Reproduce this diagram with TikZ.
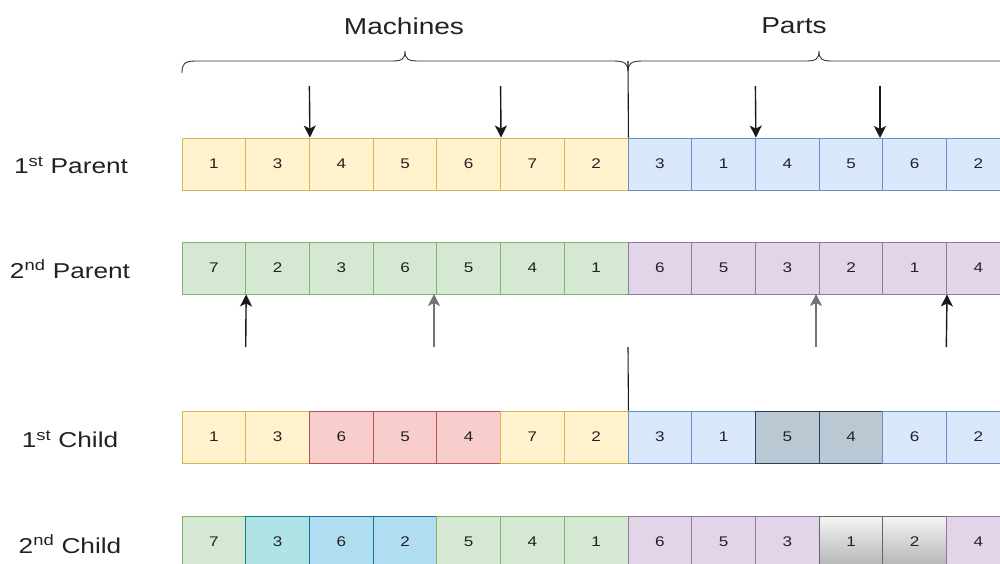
\documentclass[tikz,border=0pt]{standalone}
\usepackage{fontspec}
\setmainfont{Liberation Sans}
\newfontfamily\lblfont[FakeStretch=1.22]{Liberation Sans}
\usetikzlibrary{arrows.meta}
\definecolor{yelF}{HTML}{FFF2CC}\definecolor{yelD}{HTML}{D6B656}
\definecolor{bluF}{HTML}{DAE8FC}\definecolor{bluD}{HTML}{6C8EBF}
\definecolor{grnF}{HTML}{D5E8D4}\definecolor{grnD}{HTML}{82B366}
\definecolor{purF}{HTML}{E1D5E7}\definecolor{purD}{HTML}{9673A6}
\definecolor{redF}{HTML}{F8CECC}\definecolor{redD}{HTML}{B85450}
\definecolor{dbF}{HTML}{BAC8D3}\definecolor{dbD}{HTML}{23445D}
\definecolor{tealF}{HTML}{B0E3E6}\definecolor{tealD}{HTML}{0E8088}
\definecolor{lbF}{HTML}{B1DDF0}\definecolor{lbD}{HTML}{10739E}
\definecolor{gryD}{HTML}{666666}
\definecolor{txt}{HTML}{222222}
\tikzset{
  cell/.style={draw, line width=0.9pt, minimum width=63.714pt, minimum height=52pt, inner sep=0pt,
    font=\lblfont\fontsize{14}{16}\selectfont, text=txt},
  yel/.style={fill=yelF, draw=yelD},
  blu/.style={fill=bluF, draw=bluD},
  grn/.style={fill=grnF, draw=grnD},
  pur/.style={fill=purF, draw=purD},
  red/.style={fill=redF, draw=redD},
  db/.style={fill=dbF, draw=dbD},
  teal/.style={fill=tealF, draw=tealD},
  lb/.style={fill=lbF, draw=lbD},
  gry/.style={top color=white!96!black, bottom color=black!30, draw=gryD},
  rowlabel/.style={font=\lblfont\fontsize{21.5}{25}\selectfont, text=txt, inner sep=0pt},
  title/.style={font=\lblfont\fontsize{23}{27}\selectfont, text=txt, inner sep=0pt},
  arr/.style={-{Stealth[length=12pt,width=12pt,inset=3pt]}, line width=1.4pt, draw=black!90},
  garr/.style={arr, draw=black!55},
  bracestyle/.style={line width=0.9pt, draw=black!80},
  plain/.style={line width=1.1pt, draw=black!90}
}
\begin{document}
\begin{tikzpicture}[x=1pt,y=-1pt]
\useasboundingbox (0,0) rectangle (1000,563);
\clip (0,0) rectangle (1000,563);
% row labels
\node[rowlabel] (l1) at (71,165) {1\textsuperscript{st} Parent};
\node[rowlabel] (l2) at (70,269) {2\textsuperscript{nd} Parent};
\node[rowlabel] (l3) at (70,439) {1\textsuperscript{st} Child};
\node[rowlabel] (l4) at (70,544) {2\textsuperscript{nd} Child};
% rows
\foreach \v/\s [count=\i] in {1/yel,3/yel,4/yel,5/yel,6/yel,7/yel,2/yel,3/blu,1/blu,4/blu,5/blu,6/blu,2/blu}
  \node[cell,\s] (pa\i) at ({182+(\i-0.5)*63.714},164) {\v};
\foreach \v/\s [count=\i] in {7/grn,2/grn,3/grn,6/grn,5/grn,4/grn,1/grn,6/pur,5/pur,3/pur,2/pur,1/pur,4/pur}
  \node[cell,\s] (pb\i) at ({182+(\i-0.5)*63.714},268) {\v};
\foreach \v/\s [count=\i] in {1/yel,3/yel,6/red,5/red,4/red,7/yel,2/yel,3/blu,1/blu,5/db,4/db,6/blu,2/blu}
  \node[cell,\s] (ca\i) at ({182+(\i-0.5)*63.714},437) {\v};
\foreach \v/\s [count=\i] in {7/grn,3/teal,6/lb,2/lb,5/grn,4/grn,1/grn,6/pur,5/pur,3/pur,1/gry,2/gry,4/pur}
  \node[cell,\s] (cb\i) at ({182+(\i-0.5)*63.714},542) {\v};
% braces and titles
\draw[bracestyle] (182,73) .. controls (182,64) and (184,61) .. (196,61) -- (392,61)
  .. controls (402,61) and (405,59) .. (405,51) .. controls (405,59) and (408,61) .. (418,61)
  -- (614,61) .. controls (625,61) and (628,64) .. (628,71);
\draw[bracestyle] (628,71) .. controls (628,64) and (631,61) .. (642,61) -- (806,61)
  .. controls (816,61) and (819,59) .. (819,51) .. controls (819,59) and (822,61) .. (832,61)
  -- (1010,61);
\node[title] (tm) at (404,26) {Machines};
\node[title] (tp) at (794,26) {Parts};
\coordinate (bj) at (628,61);
\draw[plain] (bj) -- (pa7.north east);
\coordinate (sj) at (628,347);
\draw[plain] (sj) -- (ca7.north east);
% down arrows
\coordinate (d1) at (309.4,86);
\coordinate (d2) at (500.6,86);
\coordinate (d3) at (755.4,86);
\coordinate (d4) at (880,86);
\coordinate (d4e) at (880,138);
\draw[arr] (d1) -- (pa2.north east);
\draw[arr] (d2) -- (pa5.north east);
\draw[arr] (d3) -- (pa9.north east);
\draw[arr] (d4) -- (d4e);
% up arrows
\coordinate (u1) at (245.7,347);
\coordinate (u2) at (434,347);
\coordinate (u2e) at (434,294);
\coordinate (u3) at (816,347);
\coordinate (u3e) at (816,294);
\coordinate (u4) at (946.3,347);
\draw[arr] (u1) -- (pb1.south east);
\draw[garr] (u2) -- (u2e);
\draw[garr] (u3) -- (u3e);
\draw[arr] (u4) -- (pb12.south east);
\end{tikzpicture}
\end{document}
